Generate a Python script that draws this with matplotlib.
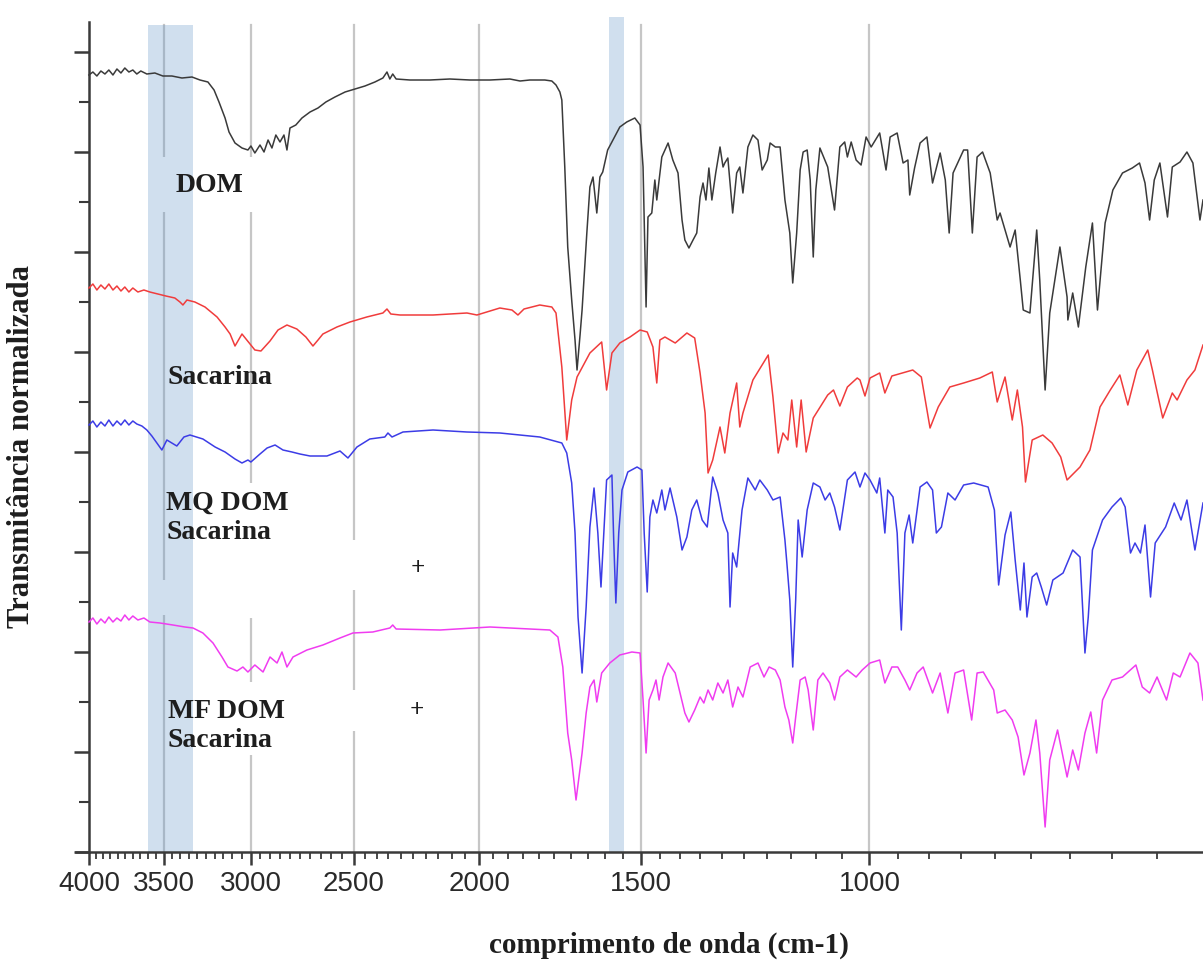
import matplotlib
matplotlib.use('Agg')
import matplotlib.pyplot as plt

plt.rcParams['font.family'] = ['Liberation Sans', 'DejaVu Sans']

# ---------------- data (wavenumber cm-1, stacked normalized transmittance) ----------------
dom = [(4000,7.77),(3972,7.80),(3944,7.76),(3916,7.81),(3888,7.78),(3861,7.82),(3833,7.77),(3806,7.83),(3779,7.79),(3753,7.84),(3726,7.80),(3700,7.82),(3674,7.78),(3648,7.81),(3609,7.78),(3558,7.79),(3508,7.76),(3452,7.76),(3391,7.74),(3331,7.75),(3284,7.72),(3238,7.70),(3203,7.62),(3175,7.50),(3141,7.34),(3119,7.20),(3086,7.09),(3048,7.04),(3016,7.02),(3000,7.06),(2979,6.99),(2952,7.07),(2931,7.00),(2910,7.12),(2890,7.04),(2870,7.17),(2849,7.10),(2829,7.17),(2814,7.02),(2799,7.24),(2770,7.27),(2740,7.34),(2701,7.40),(2663,7.44),(2626,7.50),(2584,7.55),(2538,7.60),(2494,7.63),(2450,7.66),(2407,7.70),(2373,7.74),(2356,7.80),(2344,7.73),(2332,7.78),(2318,7.73),(2262,7.72),(2183,7.72),(2107,7.73),(2033,7.72),(1962,7.72),(1894,7.73),(1860,7.71),(1828,7.72),(1780,7.72),(1758,7.71),(1745,7.67),(1733,7.60),(1727,7.52),(1718,6.85),(1709,6.05),(1697,5.52),(1687,5.12),(1681,4.82),(1672,5.17),(1666,5.42),(1652,6.19),(1643,6.65),(1634,6.75),(1623,6.39),(1614,6.75),(1606,6.80),(1592,7.02),(1577,7.12),(1558,7.25),(1539,7.30),(1517,7.34),(1503,7.27),(1495,6.85),(1487,5.45),(1482,6.35),(1472,6.39),(1464,6.72),(1459,6.52),(1446,6.95),(1430,7.09),(1418,6.92),(1405,6.79),(1395,6.32),(1388,6.12),(1378,6.04),(1368,6.12),(1359,6.19),(1351,6.55),(1344,6.69),(1337,6.52),(1330,6.84),(1323,6.52),(1314,6.79),(1304,7.05),(1297,6.85),(1293,6.89),(1286,6.94),(1275,6.39),(1266,6.79),(1259,6.85),(1252,6.59),(1241,7.05),(1230,7.17),(1219,7.12),(1210,6.82),(1199,6.92),(1193,7.09),(1182,7.05),(1172,7.05),(1162,6.52),(1152,6.19),(1146,5.69),(1138,6.19),(1131,6.82),(1125,7.00),(1117,7.02),(1111,6.72),(1105,5.95),(1100,6.62),(1092,7.04),(1077,6.85),(1064,6.42),(1054,7.05),(1045,7.10),(1040,6.95),(1033,7.10),(1024,6.92),(1015,6.87),(1006,7.15),(997,7.05),(982,7.19),(971,6.82),(964,7.15),(952,7.19),(942,6.89),(934,6.92),(931,6.57),(923,6.84),(914,7.09),(903,7.15),(894,6.69),(882,6.99),(874,6.72),(868,6.19),(862,6.79),(846,7.02),(840,7.02),(833,6.19),(826,6.95),(818,7.00),(807,6.79),(797,6.32),(793,6.39),(786,6.22),(779,6.05),(772,6.22),(765,5.72),(761,5.42),(752,5.39),(743,6.22),(739,5.72),(732,4.62),(726,5.39),(713,6.05),(704,5.55),(703,5.32),(697,5.59),(690,5.25),(681,5.85),(673,6.29),(667,5.42),(658,6.29),(649,6.62),(638,6.79),(627,6.84),(619,6.89),(613,6.69),(608,6.32),(603,6.72),(597,6.89),(589,6.35),(584,6.85),(576,6.90),(569,7.00),(563,6.89),(556,6.32),(553,6.52)]

sacarina = [(4000,5.64),(3972,5.68),(3944,5.62),(3916,5.67),(3888,5.63),(3861,5.68),(3833,5.62),(3806,5.66),(3779,5.61),(3753,5.65),(3726,5.60),(3700,5.64),(3667,5.60),(3628,5.62),(3590,5.60),(3539,5.58),(3489,5.56),(3434,5.54),(3403,5.50),(3385,5.47),(3361,5.52),(3314,5.50),(3255,5.45),(3186,5.35),(3141,5.25),(3113,5.18),(3086,5.06),(3048,5.18),(3005,5.08),(2979,5.02),(2947,5.01),(2900,5.11),(2859,5.22),(2814,5.27),(2765,5.23),(2721,5.15),(2687,5.06),(2663,5.12),(2640,5.18),(2575,5.25),(2516,5.30),(2442,5.35),(2373,5.39),(2356,5.43),(2340,5.38),(2302,5.37),(2171,5.37),(2044,5.39),(2008,5.37),(1928,5.44),(1887,5.42),(1867,5.37),(1847,5.43),(1796,5.47),(1758,5.45),(1745,5.39),(1727,4.85),(1712,4.12),(1697,4.52),(1681,4.75),(1643,4.99),(1609,5.10),(1595,4.62),(1580,4.99),(1558,5.09),(1530,5.15),(1503,5.22),(1484,5.20),(1469,5.05),(1459,4.69),(1451,5.12),(1438,5.15),(1412,5.09),(1383,5.19),(1364,5.14),(1351,4.79),(1339,4.39),(1332,3.79),(1321,3.92),(1304,4.25),(1293,3.99),(1281,4.39),(1266,4.69),(1259,4.25),(1252,4.39),(1230,4.72),(1197,4.97),(1187,4.55),(1176,3.99),(1166,4.19),(1156,4.12),(1148,4.52),(1138,4.05),(1129,4.52),(1119,4.00),(1105,4.34),(1077,4.57),(1066,4.62),(1054,4.46),(1040,4.65),(1022,4.74),(1017,4.72),(1008,4.56),(999,4.74),(982,4.79),(973,4.59),(961,4.76),(926,4.82),(912,4.75),(898,4.24),(885,4.45),(867,4.65),(846,4.69),(822,4.74),(804,4.80),(797,4.50),(786,4.75),(776,4.32),(769,4.62),(762,4.25),(758,3.70),(749,4.12),(735,4.17),(723,4.09),(712,3.95),(704,3.72),(688,3.85),(676,4.02),(664,4.45),(652,4.62),(641,4.77),(632,4.47),(622,4.82),(616,4.92),(610,5.02),(605,4.82),(594,4.34),(584,4.59),(579,4.52),(569,4.72),(561,4.82),(553,5.07)]

mq_dom_sacarina = [(4000,4.27),(3972,4.31),(3944,4.25),(3916,4.30),(3888,4.26),(3861,4.32),(3833,4.26),(3806,4.31),(3779,4.27),(3753,4.32),(3726,4.27),(3700,4.31),(3674,4.28),(3641,4.26),(3609,4.22),(3577,4.16),(3545,4.09),(3514,4.02),(3483,4.12),(3452,4.09),(3422,4.06),(3379,4.15),(3343,4.17),(3267,4.13),(3197,4.05),(3141,4.00),(3086,3.93),(3048,3.89),(3016,3.92),(3000,3.90),(2952,3.98),(2915,4.04),(2874,4.07),(2834,4.02),(2789,4.00),(2750,3.98),(2701,3.96),(2621,3.96),(2561,4.01),(2525,3.94),(2485,4.05),(2429,4.13),(2365,4.15),(2352,4.19),(2335,4.15),(2290,4.20),(2171,4.22),(2044,4.20),(1928,4.19),(1796,4.15),(1727,4.09),(1712,3.99),(1697,3.69),(1687,3.19),(1678,2.35),(1666,1.79),(1654,2.45),(1643,3.25),(1631,3.64),(1620,3.19),(1611,2.65),(1603,3.19),(1595,3.72),(1580,3.77),(1575,3.12),(1569,2.49),(1561,3.19),(1552,3.62),(1536,3.80),(1511,3.85),(1498,3.82),(1492,3.19),(1484,2.60),(1477,3.35),(1469,3.52),(1459,3.39),(1446,3.62),(1438,3.42),(1425,3.64),(1408,3.35),(1395,3.02),(1383,3.15),(1371,3.42),(1359,3.52),(1346,3.32),(1334,3.25),(1321,3.75),(1309,3.59),(1297,3.32),(1286,3.19),(1281,2.45),(1275,2.99),(1266,2.85),(1254,3.42),(1241,3.74),(1225,3.62),(1215,3.72),(1199,3.62),(1187,3.52),(1172,3.55),(1162,3.12),(1158,2.89),(1152,2.52),(1146,1.85),(1140,2.52),(1135,3.32),(1127,2.95),(1117,3.42),(1105,3.69),(1092,3.65),(1082,3.52),(1073,3.59),(1064,3.45),(1054,3.22),(1040,3.72),(1026,3.80),(1017,3.65),(1008,3.79),(999,3.72),(987,3.59),(982,3.74),(973,3.19),(968,3.62),(959,3.55),(952,3.19),(945,2.22),(939,3.19),(932,3.37),(926,3.09),(914,3.65),(903,3.70),(894,3.62),(888,3.19),(880,3.25),(870,3.59),(859,3.52),(846,3.67),(831,3.69),(810,3.65),(801,3.42),(795,2.67),(786,3.17),(778,3.40),(772,2.92),(765,2.42),(760,2.89),(756,2.35),(749,2.75),(743,2.79),(737,2.65),(730,2.47),(722,2.72),(709,2.79),(697,3.02),(688,2.95),(682,1.99),(678,2.35),(673,3.02),(661,3.32),(650,3.45),(640,3.54),(635,3.45),(629,2.99),(624,3.09),(618,2.99),(613,3.27),(607,2.55),(602,3.09),(591,3.25),(582,3.49),(575,3.32),(569,3.52),(561,3.02),(553,3.49)]

mf_dom_sacarina = [(4000,2.30),(3972,2.34),(3944,2.28),(3916,2.33),(3888,2.29),(3861,2.35),(3833,2.30),(3806,2.34),(3779,2.31),(3753,2.37),(3726,2.32),(3700,2.36),(3667,2.32),(3628,2.34),(3590,2.30),(3526,2.29),(3446,2.27),(3373,2.25),(3325,2.24),(3267,2.19),(3209,2.09),(3158,1.95),(3125,1.85),(3075,1.81),(3043,1.85),(3016,1.80),(2979,1.87),(2936,1.80),(2900,1.95),(2864,1.89),(2839,2.00),(2814,1.85),(2784,1.95),(2716,2.02),(2640,2.07),(2561,2.14),(2503,2.19),(2416,2.20),(2344,2.24),(2332,2.27),(2318,2.23),(2144,2.22),(1962,2.25),(1764,2.22),(1739,2.15),(1724,1.85),(1709,1.19),(1697,0.92),(1684,0.52),(1666,0.99),(1654,1.39),(1643,1.65),(1631,1.72),(1623,1.50),(1609,1.79),(1586,1.89),(1558,1.97),(1525,2.00),(1503,1.99),(1495,1.52),(1487,0.99),(1479,1.52),(1469,1.62),(1461,1.72),(1453,1.52),(1443,1.75),(1430,1.89),(1412,1.79),(1400,1.59),(1388,1.39),(1378,1.30),(1364,1.42),(1351,1.55),(1342,1.49),(1332,1.62),(1321,1.52),(1309,1.69),(1297,1.59),(1286,1.72),(1275,1.45),(1263,1.65),(1252,1.55),(1236,1.85),(1219,1.89),(1206,1.75),(1195,1.85),(1182,1.82),(1172,1.72),(1162,1.45),(1154,1.32),(1146,1.09),(1140,1.35),(1131,1.72),(1121,1.75),(1115,1.62),(1105,1.22),(1096,1.72),(1086,1.79),(1073,1.69),(1064,1.52),(1054,1.75),(1040,1.82),(1024,1.75),(1013,1.82),(999,1.89),(982,1.92),(973,1.69),(961,1.85),(951,1.85),(939,1.72),(931,1.62),(919,1.79),(909,1.85),(894,1.59),(882,1.79),(870,1.39),(859,1.79),(846,1.82),(834,1.32),(826,1.79),(817,1.80),(802,1.62),(797,1.39),(786,1.42),(776,1.32),(768,1.15),(760,0.77),(752,0.99),(744,1.32),(739,0.99),(732,0.25),(726,0.92),(716,1.22),(704,0.75),(697,1.02),(690,0.82),(682,1.19),(675,1.40),(668,0.99),(661,1.52),(650,1.72),(638,1.75),(623,1.87),(616,1.65),(608,1.59),(600,1.75),(590,1.52),(583,1.79),(576,1.75),(566,1.99),(558,1.89),(553,1.52)]

series_names = ["DOM", "Sacarina", "MQ DOM Sacarina", "MF DOM Sacarina"]
series_colors = ["#3a3a3a", "#f03c3c", "#3c3ce6", "#f03cf0"]

major_ticks = [4000, 3500, 3000, 2500, 2000, 1500, 1000]
minor_ticks = [w for w in range(4000, 550, -50) if w not in major_ticks]
grid_wn = [3500, 3000, 2500, 2000, 1500, 1000]
bands = [(3600, 3325, 8.27), (1588, 1547, 8.35)]

# label backgrounds that interrupt the grid lines (wn_left, wn_right, T_bottom, T_top)
label_masks = [(3532, 2942, 6.40, 6.95),
               (3464, 2750, 2.34, 3.69),
               (3571, 3403, 2.37, 2.72),
               (2607, 2144, 2.62, 3.12),
               (3464, 2750, 0.97, 1.70),
               (2607, 2144, 1.21, 1.62)]

labels = [("DOM", 3427, 6.66), ("Sacarina", 3476, 4.74),
          ("MQ DOM\nSacarina", 3488, 3.34), ("MF DOM\nSacarina", 3476, 1.26)]
plus_marks = [(2230, 2.83), (2235, 1.42)]

# ---------------- figure ----------------
W, H = 1203, 967
fig = plt.figure(figsize=(W / 100, H / 100), dpi=100)
ax = fig.add_axes([76 / W, 115 / H, 1 - 76 / W, 835 / H])
ax.set_xscale('log')
ax.set_xlim(4093, 553)
ax.set_ylim(0, 8.35)

ymax_grid = 8.27 / 8.35
for g in grid_wn:
    ax.axvline(g, ymin=0, ymax=ymax_grid, color='#c6c6c6', lw=1.6, zorder=1)

for (x0, x1, y0, y1) in label_masks:
    ax.fill([x0, x1, x1, x0], [y0, y0, y1, y1], color='white', lw=0, zorder=1.5)

for (b0, b1, top) in bands:
    ax.axvspan(b0, b1, ymin=0, ymax=top / 8.35, color=(100 / 255, 150 / 255, 200 / 255),
               alpha=0.3, lw=0, zorder=2)

for data, name, col in zip([dom, sacarina, mq_dom_sacarina, mf_dom_sacarina], series_names, series_colors):
    wn, t = zip(*data)
    ax.plot(wn, t, color=col, lw=1.1, zorder=3, label=name, solid_joinstyle='round')

serif = ['Liberation Serif', 'DejaVu Serif']
for txt, x, y in labels:
    ax.text(x, y, txt, family=serif, fontweight='bold', fontsize=20, ha='left', va='center',
            color='#1e1e1e', linespacing=1.2, zorder=4)
for x, y in plus_marks:
    ax.text(x, y, '+', family=serif, fontweight='bold', fontsize=18, ha='center', va='center',
            color='#1e1e1e', zorder=4)

# axes styling
for s in ['top', 'right']:
    ax.spines[s].set_visible(False)
ax.spines['left'].set_position(('data', 4000))
ax.spines['left'].set_bounds(0, 8.30)
for s in ['left', 'bottom']:
    ax.spines[s].set_color('#3a3a3a')
    ax.spines[s].set_linewidth(1.8)

ax.set_xticks(major_ticks)
ax.set_xticklabels([str(t) for t in major_ticks])
ax.set_xticks(minor_ticks, minor=True)
ax.xaxis.set_minor_formatter(matplotlib.ticker.NullFormatter())
ax.set_yticks(range(9))
ax.set_yticks([i + 0.5 for i in range(8)], minor=True)
ax.set_yticklabels([])
ax.tick_params(axis='x', which='major', length=9, width=1.8, direction='out', color='#3a3a3a',
               labelsize=20, labelcolor='#2a2a2a', pad=5)
ax.tick_params(axis='x', which='minor', length=5, width=1.3, direction='out', color='#3a3a3a')
ax.tick_params(axis='y', which='major', length=11, width=1.8, direction='out', color='#3a3a3a')
ax.tick_params(axis='y', which='minor', length=7, width=1.5, direction='out', color='#3a3a3a')

fig.text(669 / W, 1 - 945 / H, 'comprimento de onda (cm-1)', family=serif, fontweight='bold',
         fontsize=21, ha='center', va='center', color='#1e1e1e')
fig.text(22 / W, 1 - 447 / H, 'Transmitância normalizada', family=serif, fontweight='bold',
         fontsize=22, ha='center', va='center', rotation=90, color='#1e1e1e')

fig.savefig('out.png', dpi=100)
